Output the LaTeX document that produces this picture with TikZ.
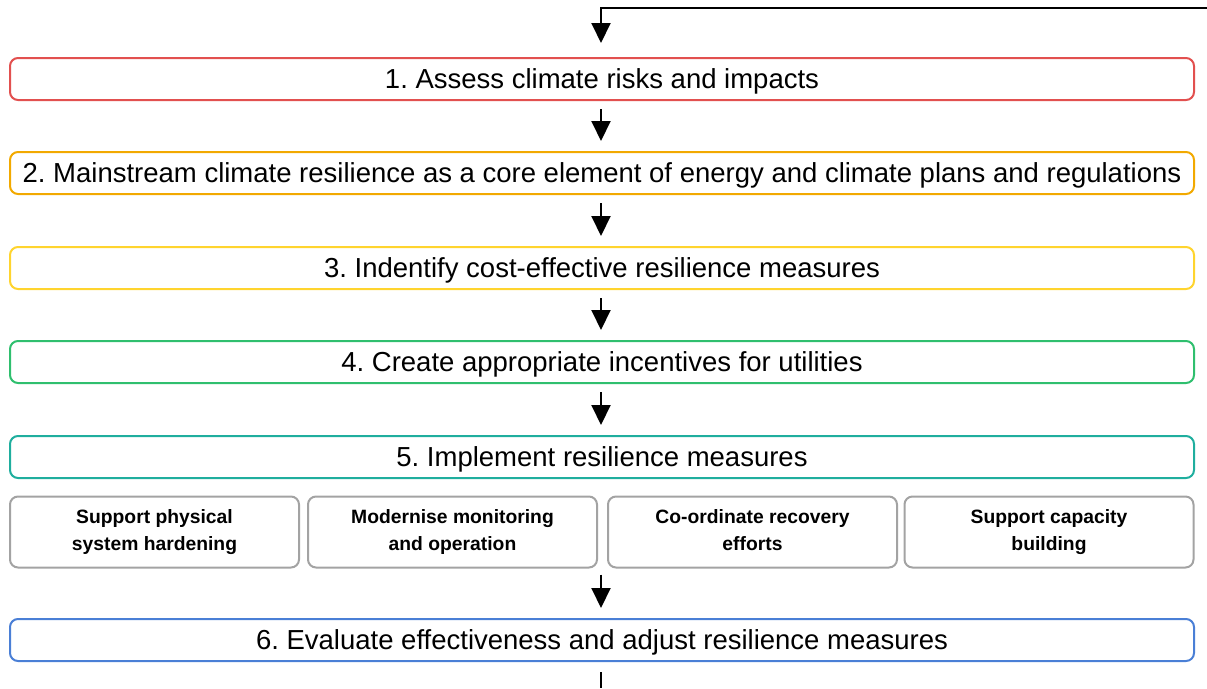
\documentclass[tikz,border=0pt]{standalone}
\usepackage{fontspec}
\setmainfont{Liberation Sans}
\usetikzlibrary{arrows.meta}
\definecolor{cred}{HTML}{E2504F}
\definecolor{corange}{HTML}{F2A900}
\definecolor{cyellow}{HTML}{FFD42E}
\definecolor{cgreen}{HTML}{2FBF6E}
\definecolor{cteal}{HTML}{1FAE9E}
\definecolor{cblue}{HTML}{4A7FD6}
\definecolor{cgrey}{HTML}{A3A3A3}
\tikzset{
  stage/.style={draw=#1, line width=2pt, rounded corners=8pt, minimum width=1184pt, minimum height=42pt, inner sep=0pt, text depth=0pt, font=\fontsize{27.5}{30}\selectfont},
  measure/.style={draw=cgrey, line width=2pt, rounded corners=8pt, minimum width=289pt, minimum height=71pt, inner sep=0pt, align=center, font=\fontsize{19.3}{27}\selectfont\bfseries},
  flow/.style={line width=2pt, -{Triangle[width=19pt,length=20pt]}},
  plain/.style={line width=2pt}
}
\begin{document}
\frenchspacing
\begin{tikzpicture}[x=1pt,y=-1pt]
\useasboundingbox (0,0) rectangle (1207,688);
\node[stage=cred]    (s1) at (602,79)  {1. Assess climate risks and impacts};
\node[stage=corange] (s2) at (602,173) {2. Mainstream climate resilience as a core element of energy and climate plans and regulations};
\node[stage=cyellow] (s3) at (602,268) {3. Indentify cost-effective resilience measures};
\node[stage=cgreen]  (s4) at (602,362) {4. Create appropriate incentives for utilities};
\node[stage=cteal]   (s5) at (602,457) {5. Implement resilience measures};
\node[measure] (m1) at (154.5,532) {\strut Support physical\\system hardening\strut};
\node[measure] (m2) at (452.5,532) {\strut Modernise monitoring\\and operation\strut};
\node[measure] (m3) at (752.5,532) {\strut Co-ordinate recovery\\efforts\strut};
\node[measure] (m4) at (1049,532) {\strut Support capacity\\building\strut};
\node[stage=cblue]   (s6) at (602,640) {6. Evaluate effectiveness and adjust resilience measures};
% feedback loop entering from the right and leaving at the bottom
\coordinate (loopin) at (1207,8);
\coordinate (loopcorner) at (601,8);
\coordinate (loopout) at (601,688);
\draw[flow] (loopin) -- (loopcorner) -- ([yshift=14pt]s1.north -| loopcorner);
\draw[flow] ([yshift=-8pt]s1.south -| loopcorner) -- ([yshift=10pt]s2.north -| loopcorner);
\draw[flow] ([yshift=-8pt]s2.south -| loopcorner) -- ([yshift=10pt]s3.north -| loopcorner);
\draw[flow] ([yshift=-8pt]s3.south -| loopcorner) -- ([yshift=10pt]s4.north -| loopcorner);
\draw[flow] ([yshift=-8pt]s4.south -| loopcorner) -- ([yshift=10pt]s5.north -| loopcorner);
\draw[flow] ([yshift=-6pt]m2.south -| loopcorner) -- ([yshift=10pt]s6.north -| loopcorner);
\draw[plain] ([yshift=-10pt]s6.south -| loopcorner) -- (loopout);
\end{tikzpicture}
\end{document}
